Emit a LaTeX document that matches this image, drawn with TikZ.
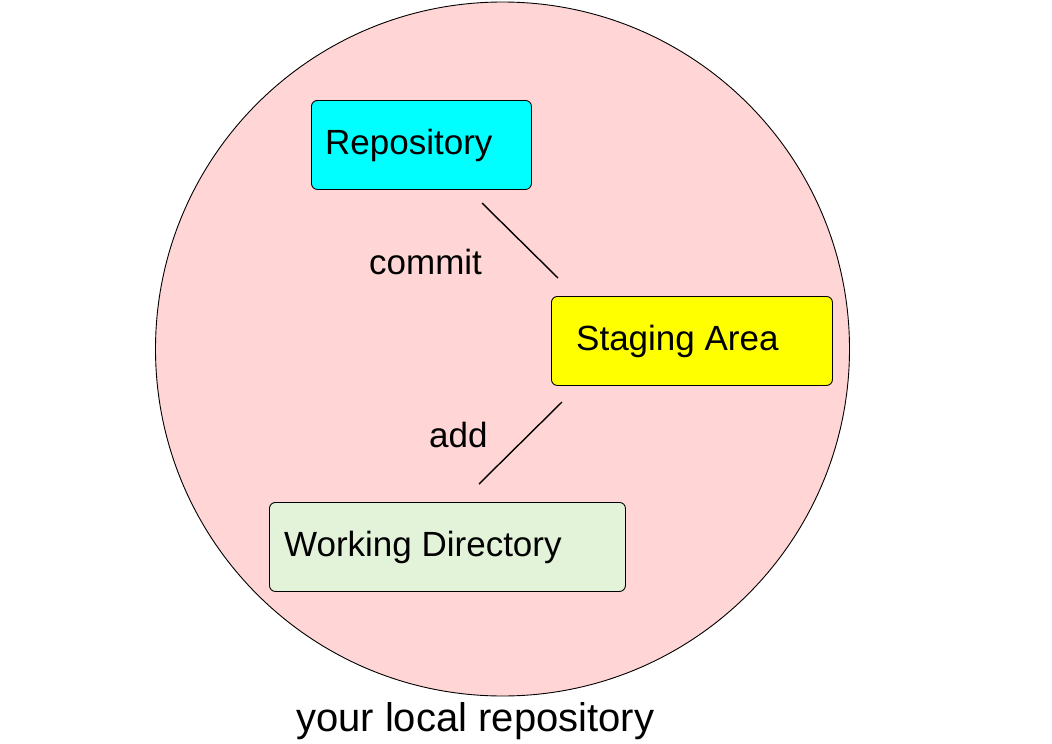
\documentclass[tikz,border=0pt]{standalone}
\usepackage{fontspec}
\setmainfont{Liberation Sans}
\definecolor{circfill}{HTML}{FFD5D5}
\definecolor{repofill}{HTML}{00FFFF}
\definecolor{stagefill}{HTML}{FFFF00}
\definecolor{workfill}{HTML}{E3F3D9}
\begin{document}
\begin{tikzpicture}[x=1pt,y=-1pt,
  box/.style={draw=black, line width=0.9pt, rounded corners=6pt, inner sep=0pt, anchor=north west},
  boxtext/.style={anchor=base west, inner sep=0pt, font=\fontsize{35}{42}\selectfont},
  conn/.style={draw=black, line width=1.4pt}]
\useasboundingbox (0,0) rectangle (1052,744);
\fill[white] (0,0) rectangle (1052,744);
\node[circle, draw=black, line width=0.9pt, fill=circfill, minimum size=694pt, inner sep=0pt] (local) at (502.5,349) {};
\node[box, fill=repofill, minimum width=220pt, minimum height=89pt] (repo) at (311,100) {};
\node[box, fill=stagefill, minimum width=281pt, minimum height=89pt] (stage) at (551,296) {};
\node[box, fill=workfill, minimum width=356pt, minimum height=89pt] (work) at (269,502) {};
\node[boxtext] (repotext) at (325,154) {Repository};
\node[boxtext] (stagetext) at (576,350) {Staging Area};
\node[boxtext] (worktext) at (284,556) {Working Directory};
\coordinate (c1) at (482,203);
\coordinate (c2) at (558,278);
\coordinate (a1) at (562,402);
\coordinate (a2) at (479,484);
\draw[conn] (c1) -- (c2);
\draw[conn] (a1) -- (a2);
\node[boxtext] (committext) at (369,274) {commit};
\node[boxtext] (addtext) at (429,447) {add};
\node[anchor=base west, inner sep=0pt, font=\fontsize{40}{48}\selectfont] (localtext) at (296,731) {your local repository};
\end{tikzpicture}
\end{document}
